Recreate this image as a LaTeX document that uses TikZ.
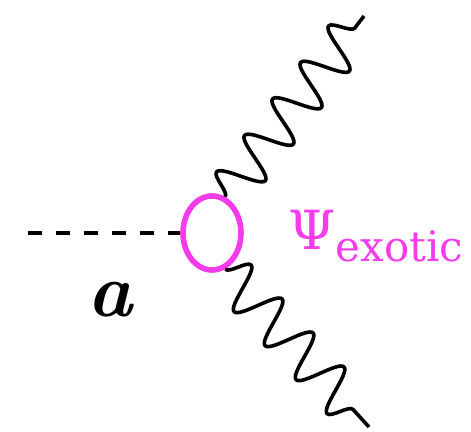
\documentclass[tikz,border=0pt]{standalone}
\usepackage{fontspec}
\newfontfamily\psifont{DejaVu Serif}
\usetikzlibrary{shapes.geometric,decorations.pathmorphing,positioning}
\definecolor{psipink}{RGB}{245,60,235}

\begin{document}
\begin{tikzpicture}[x=0.5pt,y=-0.5pt,
loopnode/.style={ellipse, draw=psipink, line width=2.8pt, minimum width=29pt, minimum height=37pt, inner sep=0pt},
scalar/.style={black, line width=2pt, dash pattern=on 7pt off 7pt},
photon/.style={black, line width=1.8pt, decorate, decoration={snake, segment length=23pt, amplitude=11pt, post length=1pt}},
textlabel/.style={inner sep=0pt}]

\useasboundingbox (0,0) rectangle (471,432);

\node[loopnode] (loop) at (212,233) {};

\coordinate (ain) at (28,233);
\coordinate (gup) at (364,16);
\coordinate (gdown) at (369,427);

\draw[scalar] (ain) -- (loop.west);

\draw[photon] (loop.70) -- (gup);

\draw[photon] (loop.-70) -- (gdown);

\node[textlabel, font=\fontsize{38}{42}\selectfont\bfseries\itshape] (alabel) at (110,300) {a};

\node[textlabel, text=psipink, anchor=base west, font=\psifont\fontsize{27}{30}\selectfont] (psilabel) at (288,250) {Ψ\raisebox{-6pt}{\fontsize{21}{24}\selectfont exotic}};

\end{tikzpicture}
\end{document}
